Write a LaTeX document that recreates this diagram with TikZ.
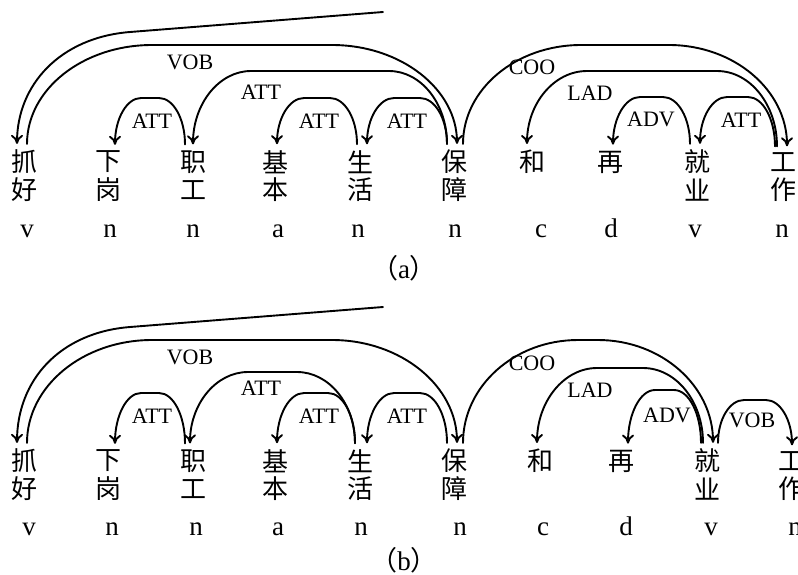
\documentclass[tikz,border=0pt]{standalone}
\usepackage{fontspec}
\setmainfont{Liberation Serif}
\newfontfamily\cjk{Noto Sans CJK SC}
\usetikzlibrary{arrows.meta,calc}
\tikzset{
  arcline/.style={line width=1.9pt, line cap=round},
  tip/.style={-{Computer Modern Rightarrow[length=9pt,width=12pt]}},
  hz/.style={font=\cjk\fontsize{26}{26}\selectfont, inner sep=0pt},
  postag/.style={font=\fontsize{27}{27}\selectfont, inner sep=0pt, anchor=base},
  lab/.style={font=\fontsize{22}{22}\selectfont, inner sep=0pt},
}
% #1 options, #2 from node, #3 dx, #4 to node, #5 dx, #6 peak y, #7 corner radius
\newcommand\deparc[7][]{%
  \draw[arcline,tip,#1] let \p1=([xshift=#3pt,yshift=6pt]#2.north),
     \p2=([xshift=#5pt,yshift=6pt]#4.north), \p3=(0,#6),
     \n1={2*(\x2>\x1)-1} in
  (\p1) .. controls (\x1,{\y1+0.5523*(\y3-\y1)}) and ({\x1+\n1*0.4477*#7pt},\y3) .. ({\x1+\n1*#7pt},\y3)
  -- ({\x2-\n1*#7pt},\y3)
  .. controls ({\x2-\n1*0.4477*#7pt},\y3) and (\x2,{\y2+0.5523*(\y3-\y2)}) .. (\p2);
}
\begin{document}
\begin{tikzpicture}[x=1pt,y=-1pt]
\useasboundingbox (0,0) rectangle (798,574);
\clip (0,0) rectangle (798,574);
% ---------------- panel (a) ----------------
\node[hz] (a1t) at (24,162) {抓}; \node[hz] (a1b) at (24,190) {好};
\node[hz] (a2t) at (108,162) {下}; \node[hz] (a2b) at (108,190) {岗};
\node[hz] (a3t) at (193,162) {职}; \node[hz] (a3b) at (193,190) {工};
\node[hz] (a4t) at (275,162) {基}; \node[hz] (a4b) at (275,190) {本};
\node[hz] (a5t) at (360,162) {生}; \node[hz] (a5b) at (360,190) {活};
\node[hz] (a6t) at (454,162) {保}; \node[hz] (a6b) at (454,190) {障};
\node[hz] (a7t) at (532,162) {和};
\node[hz] (a8t) at (610,162) {再};
\node[hz] (a9t) at (697,162) {就}; \node[hz] (a9b) at (697,190) {业};
\node[hz] (a10t) at (783,162) {工}; \node[hz] (a10b) at (783,190) {作};
\node[postag] (ap1) at (27,237) {v};
\node[postag] (ap2) at (110,237) {n};
\node[postag] (ap3) at (193,237) {n};
\node[postag] (ap4) at (278,237) {a};
\node[postag] (ap5) at (358,237) {n};
\node[postag] (ap6) at (455,237) {n};
\node[postag] (ap7) at (541,237) {c};
\node[postag] (ap8) at (611,237) {d};
\node[postag] (ap9) at (695,237) {v};
\node[postag] (ap10) at (782,237) {n};
\node[postag] (capa) at (404,278) {{\cjk （}a{\cjk ）}};
% arcs (a)
\coordinate (atopA) at (383,12);
\coordinate (atopB) at (130,32);
\draw[arcline,tip] (atopA) -- (atopB) .. controls (60,37.5) and (17,85) .. ([xshift=-7pt,yshift=6pt]a1t.north);
\deparc{a1t}{3}{a6t}{3}{45}{125}
\deparc{a3t}{-8}{a2t}{7}{98}{26}
\deparc{a6t}{-7}{a3t}{0}{71}{58}
\deparc{a5t}{-3}{a4t}{2}{98}{27}
\deparc{a6t}{-7}{a5t}{7}{98}{27}
\deparc{a6t}{9}{a10t}{4}{45}{118}
\deparc{a10t}{-6}{a7t}{-5}{71}{60}
\deparc{a9t}{-7}{a8t}{3}{97}{27}
\deparc{a10t}{-8}{a9t}{3}{97}{27}
\node[lab] (la1) at (190,62) {VOB};
\node[lab] (la2) at (152,121) {ATT};
\node[lab] (la3) at (261,92) {ATT};
\node[lab] (la4) at (319,121) {ATT};
\node[lab] (la5) at (407,121) {ATT};
\node[lab] (la6) at (532,67) {COO};
\node[lab] (la7) at (590,93) {LAD};
\node[lab] (la8) at (651,119) {ADV};
\node[lab] (la9) at (741,120) {ATT};
% ---------------- panel (b) ----------------
\node[hz] (b1t) at (24,461) {抓}; \node[hz] (b1b) at (24,489) {好};
\node[hz] (b2t) at (108,461) {下}; \node[hz] (b2b) at (108,489) {岗};
\node[hz] (b3t) at (193,461) {职}; \node[hz] (b3b) at (193,489) {工};
\node[hz] (b4t) at (275,461) {基}; \node[hz] (b4b) at (275,489) {本};
\node[hz] (b5t) at (360,461) {生}; \node[hz] (b5b) at (360,489) {活};
\node[hz] (b6t) at (454,461) {保}; \node[hz] (b6b) at (454,489) {障};
\node[hz] (b7t) at (540,461) {和};
\node[hz] (b8t) at (621,461) {再};
\node[hz] (b9t) at (707,461) {就}; \node[hz] (b9b) at (707,489) {业};
\node[hz] (b10t) at (791,461) {工}; \node[hz] (b10b) at (791,489) {作};
\node[postag] (bp1) at (29,535) {v};
\node[postag] (bp2) at (112,535) {n};
\node[postag] (bp3) at (196,535) {n};
\node[postag] (bp4) at (278,535) {a};
\node[postag] (bp5) at (361,535) {n};
\node[postag] (bp6) at (460,535) {n};
\node[postag] (bp7) at (543,535) {c};
\node[postag] (bp8) at (626,535) {d};
\node[postag] (bp9) at (711,535) {v};
\node[postag] (bp10) at (795,535) {n};
\node[postag] (capb) at (404,570) {{\cjk （}b{\cjk ）}};
% arcs (b)
\coordinate (btopA) at (383,307);
\coordinate (btopB) at (130,327);
\draw[arcline,tip] (btopA) -- (btopB) .. controls (60,332.5) and (17,380) .. ([xshift=-7pt,yshift=6pt]b1t.north);
\deparc{b1t}{3}{b6t}{3}{340}{125}
\deparc{b3t}{-8}{b2t}{7}{393}{26}
\deparc{b5t}{-5}{b3t}{-3}{372}{58}
\deparc{b5t}{-5}{b4t}{2}{393}{27}
\deparc{b6t}{-7}{b5t}{7}{393}{27}
\deparc{b6t}{9}{b9t}{6}{340}{115}
\deparc{b9t}{-4}{b7t}{-3}{368}{60}
\deparc{b9t}{-6}{b8t}{7}{390}{27}
\deparc{b9t}{11}{b10t}{1}{400}{26}
\node[lab] (lb1) at (190,357) {VOB};
\node[lab] (lb2) at (152,416) {ATT};
\node[lab] (lb3) at (261,388) {ATT};
\node[lab] (lb4) at (319,416) {ATT};
\node[lab] (lb5) at (407,416) {ATT};
\node[lab] (lb6) at (532,363) {COO};
\node[lab] (lb7) at (590,390) {LAD};
\node[lab] (lb8) at (667,415) {ADV};
\node[lab] (lb9) at (752,420) {VOB};
\end{tikzpicture}
\end{document}
